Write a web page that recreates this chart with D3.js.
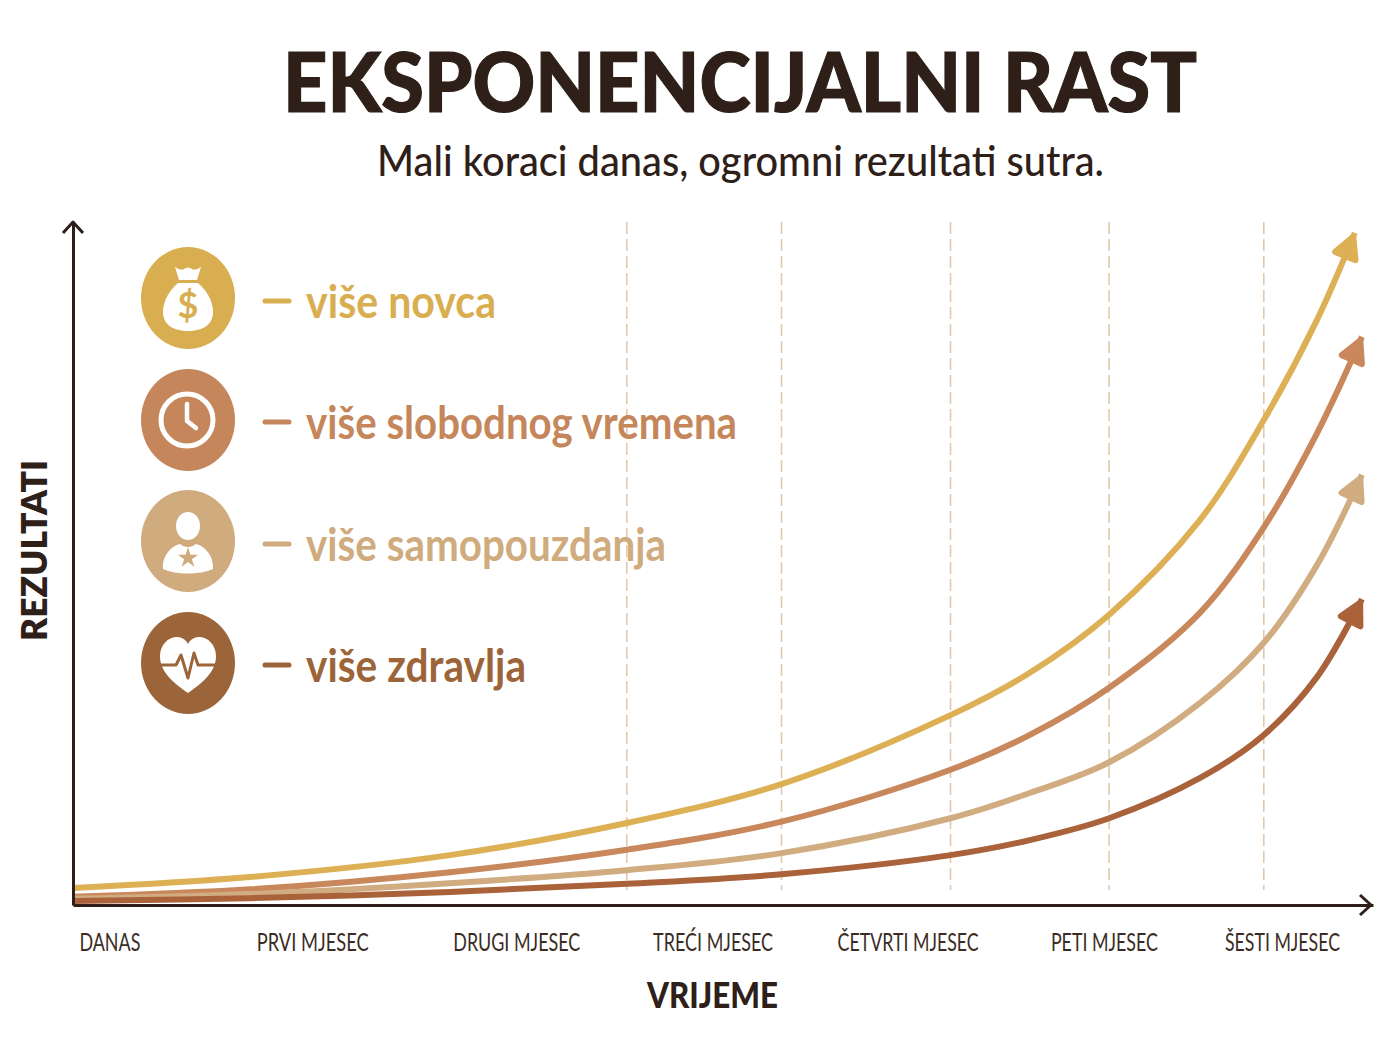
<!DOCTYPE html>
<html lang="hr">
<head>
<meta charset="utf-8">
<title>Eksponencijalni rast</title>
<script src="https://cdn.jsdelivr.net/npm/d3@7/dist/d3.min.js"></script>
<style>
  html, body { margin: 0; background: #fff; }
  svg { display: block; }
  text { font-family: Lato, "Noto Sans", sans-serif; }
</style>
</head>
<body>
<svg id="chart" width="1400" height="1050"></svg>
<script>
// Time and result values, both on a 0-100 scale
const timeSamples = [0, 13.6, 29, 42.6, 54.5, 67.5, 73.6, 79.7, 86.7, 91.6, 95.7];
const guideTimes = [42.6, 54.5, 67.5, 79.7, 91.6];
const tickTimes = [2.8, 18.4, 34.1, 49.2, 64.2, 79.3, 93];
const tickLabels = ["DANAS", "PRVI MJESEC", "DRUGI MJESEC", "TREĆI MJESEC", "ČETVRTI MJESEC", "PETI MJESEC", "ŠESTI MJESEC"];

const novacValues = [2.5, 4.1, 7.3, 12, 17.7, 27.8, 34, 42.5, 56.4, 71, 85.7, 98.4];
const vrijemeValues = [1.2, 2.3, 4.8, 8.1, 12.2, 19.8, 24.9, 31.8, 42.8, 55.3, 69.1, 83.2];
const samopouzdanjeValues = [0.9, 1.6, 3.2, 5.1, 7.6, 12.7, 16.4, 20.9, 29.6, 38.4, 49.8, 63];
const zdravljeValues = [0.6, 1, 1.9, 3.1, 4.5, 7.3, 9.5, 12.7, 18.6, 24.9, 33.4, 44.8];
const endTimes = [98.6, 99.15, 99.15, 99.15];

const seriesLabels = ["više novca", "više slobodnog vremena", "više samopouzdanja", "više zdravlja"];
const seriesColors = ["#D9AE50", "#C4865A", "#CFAB7E", "#9C6539"];
const curveColors = ["#DDB055", "#C8885C", "#D0AC80", "#A9623A"];

const ink = "#2E2019";
const svg = d3.select("#chart");

const x = d3.scaleLinear().domain([0, 100]).range([73, 1373]);
const y = d3.scaleLinear().domain([0, 100]).range([905, 222]);

// Fits a text run to a measured width, since no condensed face is available
function fitted(sel, width) {
  return sel.attr("textLength", width).attr("lengthAdjust", "spacingAndGlyphs");
}

// Heading
fitted(svg.append("text")
  .attr("x", 283).attr("y", 112)
  .attr("font-size", 82).attr("font-weight", 900)
  .attr("fill", ink).attr("stroke", ink).attr("stroke-width", 1.2)
  .text("EKSPONENCIJALNI RAST"), 914);

fitted(svg.append("text")
  .attr("x", 377).attr("y", 176)
  .attr("font-size", 43).attr("font-weight", 500)
  .attr("fill", ink)
  .text("Mali koraci danas, ogromni rezultati sutra."), 727);

// Dashed month guides
svg.append("g").selectAll("line").data(guideTimes).join("line")
  .attr("x1", d => x(d)).attr("x2", d => x(d))
  .attr("y1", 222).attr("y2", 890)
  .attr("stroke", "#E3C9AA").attr("stroke-width", 1.6)
  .attr("stroke-dasharray", "12 5");

// Arrowhead for each curve, with its tip on the last data point
const defs = svg.append("defs");
curveColors.forEach((c, i) => {
  defs.append("marker")
    .attr("id", `head-${i}`)
    .attr("markerUnits", "userSpaceOnUse")
    .attr("markerWidth", 44).attr("markerHeight", 44)
    .attr("viewBox", "-36 -22 44 44")
    .attr("refX", 0).attr("refY", 0)
    .attr("orient", "auto")
    .append("path")
    .attr("d", "M-4,0 L-25,-11 L-25,11 Z")
    .attr("fill", c).attr("stroke", c)
    .attr("stroke-width", 6).attr("stroke-linejoin", "round");
});

// Result curves
const allSeries = [novacValues, vrijemeValues, samopouzdanjeValues, zdravljeValues];
const line = d3.line().x(d => x(d[0])).y(d => y(d[1])).curve(d3.curveCatmullRom.alpha(0.5));
svg.append("g").attr("fill", "none").selectAll("path").data(allSeries).join("path")
  .attr("d", (vals, i) => line(vals.map((v, j) => [j < timeSamples.length ? timeSamples[j] : endTimes[i], v])))
  .attr("stroke", (d, i) => curveColors[i])
  .attr("stroke-width", 6)
  .attr("stroke-linecap", "butt")
  .attr("marker-end", (d, i) => `url(#head-${i})`);

// Axes
const xAxis = d3.axisBottom(x).tickValues(tickTimes).tickSize(0).tickPadding(28)
  .tickFormat((d, i) => tickLabels[i]);
const xAxisG = svg.append("g").attr("transform", `translate(0,${y(0)})`).call(xAxis);
xAxisG.select(".domain").attr("stroke", ink).attr("stroke-width", 3);
const tickWidths = [61, 112, 127, 120, 141, 107, 115];
xAxisG.selectAll(".tick text").each(function (d, i) {
  fitted(d3.select(this), tickWidths[i])
    .attr("font-size", 25).attr("font-family", "Lato")
    .attr("fill", "#3A2C24");
});
const yAxis = d3.axisLeft(y).tickValues([]).tickSize(0);
const yAxisG = svg.append("g").attr("transform", `translate(${x(0)},0)`).call(yAxis);
yAxisG.select(".domain").attr("stroke", ink).attr("stroke-width", 3);

svg.append("path")
  .attr("d", `M${x(0) - 10},233 L${x(0)},222 L${x(0) + 10},233`)
  .attr("fill", "none").attr("stroke", ink).attr("stroke-width", 3).attr("stroke-linejoin", "round");
svg.append("path")
  .attr("d", `M1360,${y(0) - 10} L1371,${y(0)} L1360,${y(0) + 10}`)
  .attr("fill", "none").attr("stroke", ink).attr("stroke-width", 3).attr("stroke-linejoin", "round");

// Axis titles
fitted(svg.append("text")
  .attr("x", 647).attr("y", 1008)
  .attr("font-size", 36).attr("font-weight", 900).attr("fill", ink)
  .text("VRIJEME"), 131);

fitted(svg.append("text")
  .attr("transform", "translate(47,641) rotate(-90)")
  .attr("font-size", 36).attr("font-weight", 800).attr("fill", ink)
  .text("REZULTATI"), 181);

// Legend rows: badge, dash and label
const legendCentres = [298, 420, 541, 663];
const legendDashes = [301, 422, 544, 665];
const legendBaselines = [318, 439, 561, 682];
const legendWidths = [190, 431, 360, 220];

const iconDrawers = [
  // Money bag with a dollar sign
  (g, c) => {
    g.append("path").attr("fill", "#fff")
      .attr("d", "M-13,-31 Q-7,-27 -4,-29 Q0,-32 4,-29 Q7,-27 13,-31 L9,-18 L-9,-18 Z");
    g.append("path").attr("fill", "#fff")
      .attr("d", "M-10,-15 L10,-15 C18,-8 25,2 25,14 C25,27 14,33 0,33 C-14,33 -25,27 -25,14 C-25,2 -18,-8 -10,-15 Z");
    g.append("text").attr("x", 0).attr("y", 20).attr("text-anchor", "middle")
      .attr("font-size", 36).attr("font-weight", 700).attr("fill", c).text("$");
  },
  // Clock
  (g, c) => {
    g.append("circle").attr("r", 26).attr("cx", -1).attr("fill", "none")
      .attr("stroke", "#fff").attr("stroke-width", 5);
    g.append("path").attr("d", "M-1,-16 L-1,1 L8,8").attr("fill", "none")
      .attr("stroke", "#fff").attr("stroke-width", 4.5)
      .attr("stroke-linecap", "round").attr("stroke-linejoin", "round");
  },
  // Person with a star on the chest
  (g, c) => {
    g.append("ellipse").attr("cy", -15).attr("rx", 12).attr("ry", 14).attr("fill", "#fff");
    g.append("path").attr("fill", "#fff")
      .attr("d", "M-25,28 C-26,14 -16,5 -8,3 C-3,7 3,7 8,3 C16,5 26,14 25,28 C12,34 -12,34 -25,28 Z");
    g.append("path").attr("fill", c)
      .attr("d", d3.symbol().type(d3.symbolStar).size(130)())
      .attr("transform", "translate(0,17)");
  },
  // Heart with a pulse trace
  (g, c) => {
    g.append("path").attr("fill", "#fff")
      .attr("d", "M0,30 C-16,19 -28,8 -28,-7 C-28,-18 -20,-26 -11,-26 C-6,-26 -2,-23 0,-19 C2,-23 6,-26 11,-26 C20,-26 28,-18 28,-7 C28,8 16,19 0,30 Z");
    g.append("path").attr("fill", "none").attr("stroke", c).attr("stroke-width", 3)
      .attr("stroke-linejoin", "round")
      .attr("d", "M-28,2 L-12,2 L-7,-8 L0,15 L6,-10 L10,2 L28,2");
  }
];

seriesLabels.forEach((label, i) => {
  const row = svg.append("g");
  row.append("ellipse")
    .attr("cx", 188).attr("cy", legendCentres[i])
    .attr("rx", 47).attr("ry", 51)
    .attr("fill", seriesColors[i]);
  const icon = row.append("g").attr("transform", `translate(188,${legendCentres[i]})`);
  iconDrawers[i](icon, seriesColors[i]);
  row.append("line")
    .attr("x1", 265).attr("x2", 289)
    .attr("y1", legendDashes[i]).attr("y2", legendDashes[i])
    .attr("stroke", seriesColors[i]).attr("stroke-width", 5).attr("stroke-linecap", "round");
  fitted(row.append("text")
    .attr("x", 306).attr("y", legendBaselines[i])
    .attr("font-size", 46).attr("font-weight", 700)
    .attr("fill", seriesColors[i])
    .text(label), legendWidths[i]);
});
</script>
</body>
</html>
